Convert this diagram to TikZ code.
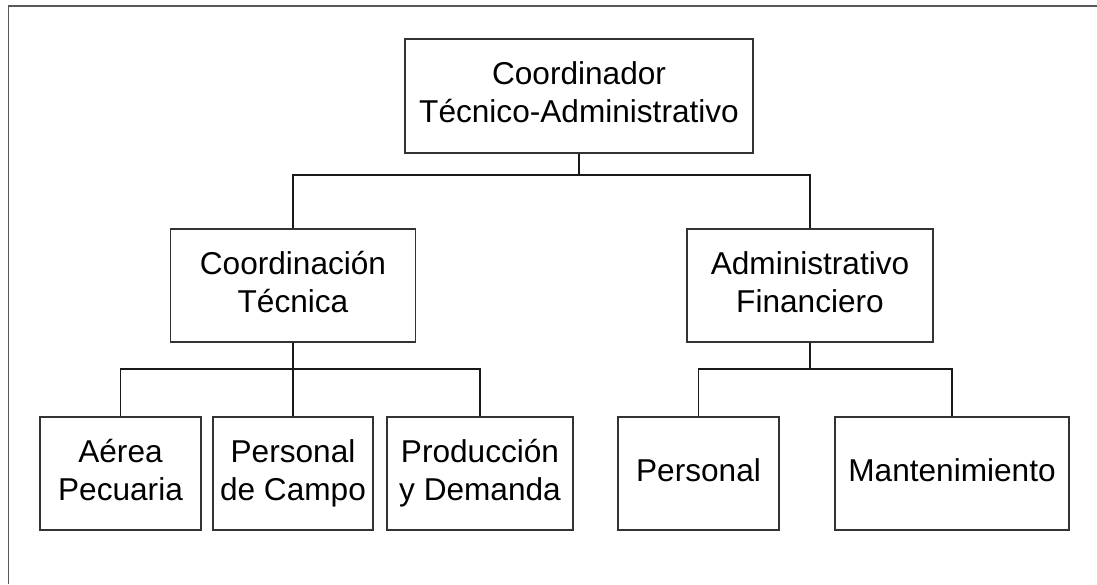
\documentclass[tikz,border=0pt]{standalone}
\usepackage{fontspec}
\setmainfont{Liberation Sans}
\begin{document}
\begin{tikzpicture}[x=1pt,y=-1pt,
  orgbox/.style={draw=black!80, line width=1.6pt, inner sep=0pt, align=center,
    font=\fontsize{31.6}{38}\selectfont},
  link/.style={draw=black!90, line width=1.5pt},
  frame/.style={draw=black!65, line width=1.8pt}]
\useasboundingbox (0,0) rectangle (1097,584);
\coordinate (fa) at (8.5,584);
\coordinate (fb) at (8.5,6);
\coordinate (fc) at (1097,6);
\draw[frame] (fa) -- (fb) -- (fc);

\node[orgbox, minimum width=348pt, minimum height=114pt] (top) at (579,96) {\strut Coordinador\\\strut Técnico-Administrativo};
\node[orgbox, minimum width=245pt, minimum height=113pt] (ct) at (293,285.5) {\strut Coordinación\\\strut Técnica};
\node[orgbox, minimum width=246pt, minimum height=113pt] (af) at (810,285.5) {\strut Administrativo\\\strut Financiero};

\node[orgbox, minimum width=161pt, minimum height=113pt] (ap) at (120.5,473.5) {\strut Aérea\\\strut Pecuaria};
\node[orgbox, minimum width=160pt, minimum height=113pt] (pc) at (293,473.5) {\strut Personal\\\strut de Campo};
\node[orgbox, minimum width=186pt, minimum height=113pt] (pd) at (480,473.5) {\strut Producción\\\strut y Demanda};
\node[orgbox, minimum width=161pt, minimum height=113pt] (pe) at (698.5,473.5) {\strut Personal};
\node[orgbox, minimum width=234pt, minimum height=113pt] (ma) at (952,473.5) {\strut Mantenimiento};

\coordinate (j1) at (579,175);
\coordinate (j2) at (293,369);
\coordinate (j3) at (810,369);

\draw[link] (top.south) -- (j1);
\draw[link] (ct.north) |- (j1) -| (af.north);
\draw[link] (ct.south) -- (j2);
\draw[link] (ap.north) |- (j2) -| (pd.north);
\draw[link] (pc.north) -- (j2);
\draw[link] (af.south) -- (j3);
\draw[link] (pe.north) |- (j3) -| (ma.north);
\end{tikzpicture}
\end{document}
